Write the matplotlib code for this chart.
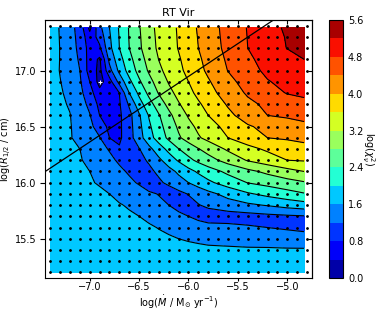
"""RT Vir: reduced chi^2 map over mass-loss rate and radius grid."""

from __future__ import annotations

import matplotlib
matplotlib.use("Agg")
import matplotlib.pyplot as plt
import numpy as np

# model grid (dots)
mdot_models = [-7.4, -7.3, -7.2, -7.1, -7.0, -6.9, -6.8, -6.7, -6.6, -6.5, -6.4,
               -6.3, -6.2, -6.1, -6.0, -5.9, -5.8, -5.7, -5.6, -5.5, -5.4, -5.3,
               -5.2, -5.1, -5.0, -4.9, -4.8]
radius_models = [15.2, 15.3, 15.4, 15.5, 15.6, 15.7, 15.8, 15.9, 16.0, 16.1, 16.2,
                 16.3, 16.4, 16.5, 16.6, 16.7, 16.8, 16.9, 17.0, 17.1, 17.2, 17.3,
                 17.4]

# chi^2 surface (rows: radius_nodes, cols: mdot_nodes)
mdot_nodes = [-7.4, -7.2, -7.1, -7.0, -6.9, -6.8, -6.7, -6.6, -6.5, -6.4, -6.3,
              -6.2, -6.1, -6.0, -5.9, -5.8, -5.6, -5.4, -5.2, -5.0, -4.83]
radius_nodes = [15.2, 15.4, 15.6, 15.7, 15.8, 15.9, 16.0, 16.1, 16.2, 16.3, 16.4,
                16.5, 16.6, 16.7, 16.8, 16.9, 17.0, 17.1, 17.2, 17.3, 17.38]
log_chi2 = [
    [1.78, 1.78, 1.78, 1.78, 1.78, 1.78, 1.78, 1.78, 1.78, 1.77, 1.77, 1.76, 1.76, 1.75, 1.75, 1.74, 1.73, 1.72, 1.72, 1.71, 1.71],
    [1.75, 1.75, 1.75, 1.75, 1.75, 1.75, 1.74, 1.74, 1.74, 1.73, 1.72, 1.71, 1.70, 1.69, 1.68, 1.67, 1.66, 1.65, 1.65, 1.64, 1.64],
    [1.74, 1.73, 1.73, 1.72, 1.72, 1.71, 1.70, 1.68, 1.66, 1.63, 1.59, 1.55, 1.50, 1.45, 1.40, 1.34, 1.30, 1.24, 1.20, 1.15, 1.10],
    [1.73, 1.72, 1.72, 1.71, 1.70, 1.68, 1.66, 1.64, 1.60, 1.55, 1.46, 1.35, 1.27, 1.20, 1.08, 1.00, 1.02, 1.05, 1.10, 1.14, 1.17],
    [1.72, 1.71, 1.70, 1.69, 1.68, 1.66, 1.62, 1.57, 1.49, 1.40, 1.30, 1.20, 1.10, 1.05, 1.18, 1.28, 1.42, 1.53, 1.63, 1.75, 1.83],
    [1.72, 1.70, 1.68, 1.66, 1.64, 1.60, 1.52, 1.44, 1.36, 1.27, 1.18, 0.95, 1.09, 1.22, 1.36, 1.49, 1.73, 1.95, 2.11, 2.25, 2.37],
    [1.72, 1.67, 1.65, 1.62, 1.58, 1.48, 1.38, 1.28, 1.16, 0.95, 1.13, 1.29, 1.45, 1.60, 1.76, 1.92, 2.18, 2.41, 2.53, 2.66, 2.76],
    [1.72, 1.66, 1.63, 1.60, 1.51, 1.39, 1.28, 1.15, 0.95, 1.11, 1.28, 1.47, 1.67, 1.87, 2.06, 2.22, 2.49, 2.70, 2.89, 3.06, 3.20],
    [1.72, 1.65, 1.62, 1.54, 1.41, 1.29, 1.14, 0.95, 1.09, 1.25, 1.52, 1.79, 2.05, 2.30, 2.49, 2.65, 2.95, 3.23, 3.41, 3.60, 3.63],
    [1.72, 1.64, 1.60, 1.46, 1.32, 1.17, 0.84, 0.98, 1.18, 1.49, 1.81, 2.11, 2.39, 2.59, 2.78, 2.95, 3.26, 3.49, 3.66, 3.77, 3.87],
    [1.72, 1.62, 1.52, 1.37, 1.22, 0.80, 0.73, 1.04, 1.44, 1.84, 2.18, 2.48, 2.75, 2.96, 3.16, 3.31, 3.60, 3.80, 4.00, 4.05, 4.10],
    [1.72, 1.62, 1.48, 1.30, 1.02, 0.70, 0.73, 1.05, 1.49, 1.93, 2.27, 2.58, 2.86, 3.09, 3.28, 3.44, 3.72, 3.96, 4.10, 4.21, 4.31],
    [1.72, 1.61, 1.42, 1.22, 0.80, 0.55, 0.73, 1.07, 1.55, 2.03, 2.37, 2.70, 2.99, 3.24, 3.42, 3.60, 3.91, 4.17, 4.40, 4.46, 4.51],
    [1.74, 1.57, 1.36, 1.11, 0.69, 0.58, 0.76, 1.26, 1.83, 2.25, 2.60, 2.91, 3.17, 3.37, 3.55, 3.72, 4.04, 4.31, 4.48, 4.60, 4.70],
    [1.75, 1.52, 1.31, 0.95, 0.53, 0.61, 0.80, 1.60, 2.09, 2.50, 2.83, 3.09, 3.31, 3.50, 3.69, 3.86, 4.18, 4.45, 4.65, 4.82, 4.87],
    [1.75, 1.47, 1.25, 0.80, 0.25, 0.64, 1.33, 1.90, 2.34, 2.68, 2.97, 3.23, 3.41, 3.60, 3.78, 3.96, 4.29, 4.55, 4.78, 4.89, 4.98],
    [1.75, 1.42, 1.20, 0.63, 0.29, 1.07, 1.70, 2.16, 2.53, 2.85, 3.12, 3.33, 3.51, 3.70, 3.89, 4.07, 4.41, 4.68, 4.87, 4.99, 5.10],
    [1.78, 1.40, 1.15, 0.64, 0.33, 1.31, 1.85, 2.28, 2.63, 2.94, 3.21, 3.39, 3.56, 3.75, 3.94, 4.12, 4.46, 4.74, 4.92, 5.07, 5.20],
    [1.80, 1.38, 1.10, 0.65, 0.73, 1.49, 2.00, 2.40, 2.73, 3.03, 3.27, 3.44, 3.62, 3.81, 4.00, 4.18, 4.51, 4.80, 5.01, 5.21, 5.29],
    [1.80, 1.36, 1.07, 0.55, 0.95, 1.55, 2.02, 2.42, 2.75, 3.05, 3.29, 3.46, 3.63, 3.82, 4.02, 4.20, 4.53, 4.81, 5.02, 5.23, 5.37],
    [1.80, 1.34, 1.04, 0.30, 1.09, 1.60, 2.04, 2.43, 2.77, 3.08, 3.30, 3.47, 3.64, 3.84, 4.04, 4.22, 4.54, 4.82, 5.04, 5.27, 5.45],
]
chi_levels = [0.0, 0.4, 0.8, 1.2, 1.6, 2.0, 2.4, 2.8, 3.2, 3.6, 4.0, 4.4, 4.8, 5.2, 5.6]
cbar_ticks = [0.0, 0.8, 1.6, 2.4, 3.2, 4.0, 4.8, 5.6]
x_ticks = [-7.0, -6.5, -6.0, -5.5, -5.0]
y_ticks = [15.5, 16.0, 16.5, 17.0]

# best fit and the diagonal constraint line
best_mdot, best_radius = -6.9, 16.9
line_mdot = [-7.45, -5.14]
line_radius = [16.10, 17.45]


def plot(out_png: str) -> None:
    fig = plt.figure(figsize=(3.82, 3.13), dpi=100)
    ax = fig.add_axes([0.1186, 0.1118, 0.698, 0.8242])
    cax = fig.add_axes([0.861, 0.1118, 0.037, 0.8242])

    X, Y = np.meshgrid(mdot_nodes, radius_nodes)
    Z = np.array(log_chi2)
    cf = ax.contourf(X, Y, Z, levels=chi_levels, cmap="jet")
    ax.contour(X, Y, Z, levels=chi_levels, colors="k", linewidths=0.8)

    mx, ry = np.meshgrid(mdot_models, radius_models)
    ax.plot(mx.ravel(), ry.ravel(), "k.", markersize=2.0, clip_on=False)
    ax.plot(line_mdot, line_radius, color="k", linewidth=0.9)
    ax.plot([best_mdot], [best_radius], "w+", markersize=3, markeredgewidth=0.8)

    ax.set_xlim(-7.45, -4.75)
    ax.set_ylim(15.15, 17.45)
    ax.set_xticks(x_ticks)
    ax.set_yticks(y_ticks)
    ax.tick_params(axis="x", direction="out", labelsize=7, length=2.5, pad=0.5)
    ax.tick_params(axis="y", direction="out", labelsize=7, length=3.5, pad=3)
    # inward ticks on top / right
    secx = ax.secondary_xaxis("top")
    secx.set_xticks(x_ticks)
    secx.tick_params(direction="in", length=3, labeltop=False)
    secy = ax.secondary_yaxis("right")
    secy.set_yticks(y_ticks)
    secy.tick_params(direction="in", length=3, labelright=False)

    ax.set_xlabel(r"log($\dot{M}$ / M$_{\odot}$ yr$^{-1}$)", fontsize=7, labelpad=1.5)
    ax.set_ylabel(r"log($R_{1/2}$ / cm)", fontsize=7, labelpad=0.5)
    ax.set_title("RT Vir", fontsize=8, pad=3)

    cb = fig.colorbar(cf, cax=cax, ticks=cbar_ticks)
    cb.ax.tick_params(labelsize=7, length=0)
    cb.set_label(r"log($\chi^2_\nu$)", fontsize=7, rotation=270, labelpad=10)

    fig.savefig(out_png, dpi=100)
    plt.close(fig)


def main() -> None:
    plot("out.png")


if __name__ == "__main__":
    main()
